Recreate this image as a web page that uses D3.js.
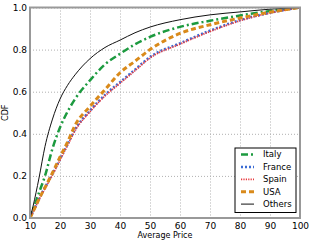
<!DOCTYPE html>
<html lang="en">
<head>
<meta charset="UTF-8">
<title>CDF of average price</title>
<script src="https://cdn.jsdelivr.net/npm/d3@7"></script>
<style>
    body { margin: 0; background: #fff; }
    text { font-family: "DejaVu Sans", sans-serif; }
</style>
</head>
<body>
<div id="chart"></div>
<script>
    // price points (x) and CDF value per country
    const price  = [10, 11, 12, 13, 15, 17.5, 20, 22.5, 25, 30, 35, 40, 45, 50, 60, 70, 80, 90, 100];
    const italy  = [0, 0.04, 0.08, 0.12, 0.2, 0.33, 0.43, 0.505, 0.565, 0.654, 0.73, 0.78, 0.825, 0.86, 0.908, 0.937, 0.962, 0.983, 1.0];
    const france = [0, 0.03, 0.06, 0.09, 0.145, 0.21, 0.28, 0.35, 0.42, 0.51, 0.585, 0.645, 0.705, 0.765, 0.83, 0.89, 0.94, 0.975, 1.0];
    const spain  = [0, 0.028, 0.057, 0.087, 0.14, 0.205, 0.275, 0.345, 0.415, 0.505, 0.58, 0.64, 0.7, 0.76, 0.826, 0.886, 0.937, 0.974, 1.0];
    const usa    = [0, 0.03, 0.06, 0.09, 0.145, 0.215, 0.29, 0.36, 0.44, 0.53, 0.61, 0.69, 0.745, 0.80, 0.877, 0.918, 0.95, 0.978, 1.0];
    const others = [0, 0.055, 0.12, 0.19, 0.34, 0.47, 0.565, 0.63, 0.68, 0.757, 0.81, 0.845, 0.88, 0.907, 0.942, 0.965, 0.979, 0.992, 1.0];

    const xTicks = [10, 20, 30, 40, 50, 60, 70, 80, 90, 100];
    const yTicks = [0, 0.2, 0.4, 0.6, 0.8, 1.0];

    const series = [
        {name: "Italy",  values: italy,  color: "#1c9a3f", width: 2.5, dash: "7,3,2,3"},
        {name: "France", values: france, color: "#3b6cd4", width: 2.5, dash: "2,2"},
        {name: "Spain",  values: spain,  color: "#e8383d", width: 1.8, dash: "1.2,1.2"},
        {name: "USA",    values: usa,    color: "#d98a1b", width: 3,   dash: "5,3"},
        {name: "Others", values: others, color: "#111",    width: 1,   dash: null}
    ];

    var margin = {top: 7.5, right: 11, bottom: 25, left: 30},
        width = 311 - margin.left - margin.right,
        height = 243 - margin.top - margin.bottom;

    var svg = d3.select("#chart").append("svg")
        .attr("width", 311)
        .attr("height", 243)
      .append("g")
        .attr("transform", "translate(" + margin.left + "," + margin.top + ")");

    var x = d3.scaleLinear().domain([10, 100]).range([0, width]);
    var y = d3.scaleLinear().domain([0, 1]).range([height, 0]);

    // grid
    svg.append("g")
        .call(d3.axisBottom(x).tickValues(xTicks).tickSize(height).tickFormat(""))
        .call(g => g.select(".domain").remove())
        .call(g => g.selectAll("line").attr("stroke", "#b0b0b0").attr("stroke-dasharray", "1,2"));
    svg.append("g")
        .call(d3.axisRight(y).tickValues(yTicks).tickSize(width).tickFormat(""))
        .call(g => g.select(".domain").remove())
        .call(g => g.selectAll("line").attr("stroke", "#b0b0b0").attr("stroke-dasharray", "1,2"));

    svg.append("defs").append("clipPath").attr("id", "clip")
        .append("rect").attr("width", width).attr("height", height);

    var line = d3.line()
        .x((d, i) => x(price[i]))
        .y(d => y(d))
        .curve(d3.curveMonotoneX);

    svg.append("g").attr("clip-path", "url(#clip)")
        .selectAll("path")
        .data(series)
        .enter()
        .append("path")
        .attr("d", d => line(d.values))
        .attr("fill", "none")
        .attr("stroke", d => d.color)
        .attr("stroke-width", d => d.width)
        .attr("stroke-dasharray", d => d.dash);

    // frame
    svg.append("rect")
        .attr("width", width).attr("height", height)
        .attr("fill", "none")
        .attr("stroke", "#999")
        .attr("stroke-width", 2);

    // tick labels
    svg.append("g")
        .attr("transform", "translate(0," + height + ")")
        .call(d3.axisBottom(x).tickValues(xTicks).tickSize(0).tickPadding(5).tickFormat(d3.format("d")))
        .call(g => g.select(".domain").remove())
        .call(g => g.selectAll("text").attr("font-size", 9).attr("fill", "#000"));
    svg.append("g")
        .call(d3.axisLeft(y).tickValues(yTicks).tickSize(0).tickPadding(3).tickFormat(d3.format(".1f")))
        .call(g => g.select(".domain").remove())
        .call(g => g.selectAll("text").attr("font-size", 9).attr("fill", "#000"));

    svg.append("text")
        .attr("x", width / 2)
        .attr("y", height + 19.5)
        .attr("text-anchor", "middle")
        .attr("font-size", 8)
        .text("Average Price");
    svg.append("text")
        .attr("transform", "translate(" + (-22) + "," + (height / 2) + ") rotate(-90)")
        .attr("text-anchor", "middle")
        .attr("font-size", 8)
        .text("CDF");

    // legend
    var leg = svg.append("g").attr("transform", "translate(" + (width - 65) + "," + (height - 70) + ")");
    leg.append("rect")
        .attr("width", 61).attr("height", 64.5)
        .attr("fill", "#fff")
        .attr("stroke", "#000")
        .attr("stroke-width", 1);
    var item = leg.selectAll(".item")
        .data(series)
        .enter()
        .append("g")
        .attr("transform", (d, i) => "translate(0," + (6.5 + i * 12.4) + ")");
    item.append("line")
        .attr("x1", 6).attr("x2", 19)
        .attr("stroke", d => d.color)
        .attr("stroke-width", d => d.width)
        .attr("stroke-dasharray", d => d.dash);
    item.append("text")
        .attr("x", 28)
        .attr("dy", "0.35em")
        .attr("font-size", 8.5)
        .text(d => d.name);
</script>
</body>
</html>
